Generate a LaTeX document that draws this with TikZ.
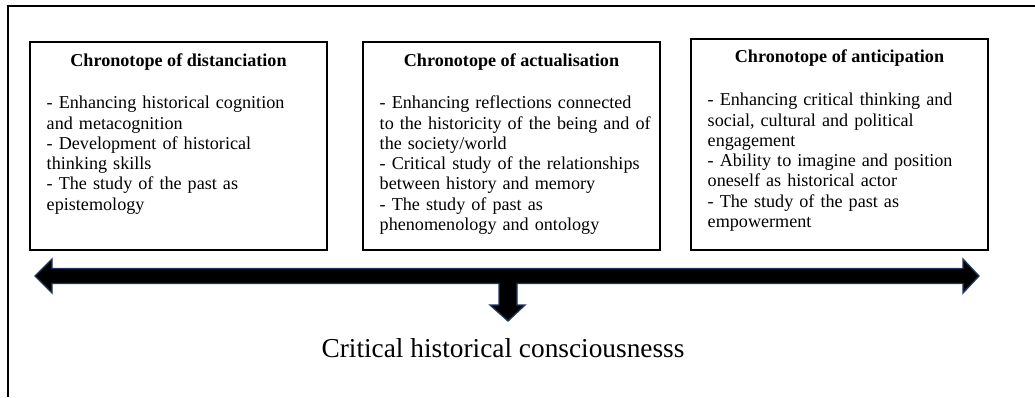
\documentclass[tikz,border=0pt]{standalone}
\usepackage{fontspec}
\setmainfont{Liberation Serif}
\usepackage{xcolor}
\usepackage{tikz}
\usetikzlibrary{positioning}

\definecolor{arrowedge}{RGB}{31,56,100}

\begin{document}
\begin{tikzpicture}[
    x=0.75pt, y=-0.75pt,
    frame/.style={draw=black, line width=1.4pt},
    chbox/.style={rectangle, draw=black, line width=0.8pt, minimum width=222.75pt, minimum height=156pt, inner sep=0pt},
    chtitle/.style={font=\fontsize{13.6}{15.2}\selectfont\bfseries, inner sep=0pt},
    chbody/.style={font=\fontsize{13.6}{15.2}\selectfont, text width=215pt, align=left, inner sep=0pt},
    bigarrow/.style={fill=black, draw=arrowedge, line width=1pt, line join=miter},
    result/.style={font=\fontsize{20.5}{24}\selectfont, inner sep=0pt}
]
\useasboundingbox (0,0) rectangle (1035,397);
\draw[frame] (8,397) -- (8,6) -- (1035,6);

% the three chronotopes
\node[chbox] (distbox) at (178.5,146) {};
\node[chbox] (actbox) at (511.5,146) {};
\node[chbox, minimum height=158.25pt] (antbox) at (839.5,144.5) {};

\node[chtitle, below=19pt of distbox.north, anchor=base] (disttitle) {Chronotope of distanciation};
\node[chtitle, below=19pt of actbox.north, anchor=base] (acttitle) {Chronotope of actualisation};
\node[chtitle, below=18.25pt of antbox.north, anchor=base] (anttitle) {Chronotope of anticipation};

\node[chbody, below right=50.5pt and 12.75pt of distbox.north west, anchor=base west] (distbody) {- Enhancing historical cognition\\
and metacognition\\
- Development of historical\\
thinking skills\\
- The study of the past as\\
epistemology};
\node[chbody, below right=50.5pt and 12.75pt of actbox.north west, anchor=base west] (actbody) {- Enhancing reflections connected\\
to the historicity of the being and of\\
the society/world\\
- Critical study of the relationships\\
between history and memory\\
- The study of past as\\
phenomenology and ontology};
\node[chbody, below right=50.5pt and 12.75pt of antbox.north west, anchor=base west] (antbody) {- Enhancing critical thinking and\\
social, cultural and political\\
engagement\\
- Ability to imagine and position\\
oneself as historical actor\\
- The study of the past as\\
empowerment};

% double arrow with the stem down
\draw[bigarrow] (35,276) -- (52,259) -- (52,268.5) -- (963,268.5) -- (963,259) -- (979,276)
  -- (963,293) -- (963,283.5) -- (517,283.5) -- (517,305) -- (525,305) -- (508,321)
  -- (490,305) -- (499,305) -- (499,283.5) -- (52,283.5) -- (52,293) -- cycle;

\node[result, anchor=base] (consc) at (503,357) {Critical historical consciousnesss};
\end{tikzpicture}
\end{document}
